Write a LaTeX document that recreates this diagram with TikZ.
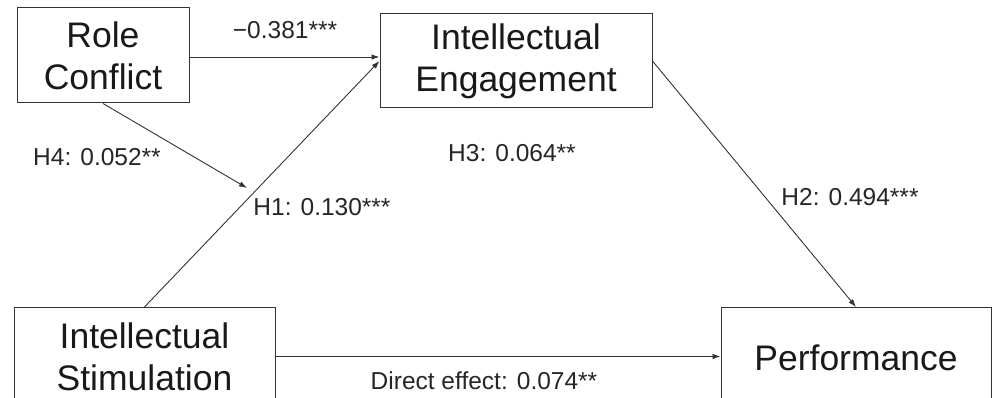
\documentclass[tikz,border=0pt]{standalone}
\usepackage{fontspec}
\setmainfont{Liberation Sans}
\usetikzlibrary{arrows.meta,calc}
\begin{document}
\begin{tikzpicture}[x=1pt,y=-1pt,
  box/.style={draw=black!80,line width=1pt,rectangle,inner sep=0pt,align=center,
    font=\fontsize{35.5}{42}\selectfont,text=black!90},
  lbl/.style={inner sep=0pt,font=\fontsize{24.5}{28}\selectfont,text=black!85},
  conn/.style={draw=black!80,line width=0.9pt,-{Latex[length=8pt,width=5.5pt]}}]
\useasboundingbox (0,0) rectangle (992,398);
\clip (0,0) rectangle (992,398);
\node[box,minimum width=172,minimum height=95] (rc) at (103,55.5) {Role\\Conflict};
\node[box,minimum width=272,minimum height=94] (ie) at (516,61) {Intellectual\\Engagement};
\node[box,minimum width=261,minimum height=98,anchor=north] (is) at (144.5,307) {Intellectual\\Stimulation};
\node[box,minimum width=270,minimum height=100,anchor=north] (pf) at (856,307) {Performance};
\coordinate (h4end) at (247,188);
\draw[conn] ([yshift=-1.5]rc.east) -- ([yshift=-1.5]ie.west |- rc.east);
\draw[conn] (is.north) -- (ie.west);
\draw[conn] (rc.south) -- (h4end);
\draw[conn] (ie.east) -- (pf.north);
\draw[conn] (is.east) -- (pf.west |- is.east);
\node[lbl] (l1) at (285,30) {−0.381***};
\node[lbl] (l2) at (97,157) {H4: 0.052**};
\node[lbl] (l3) at (322,207) {H1: 0.130***};
\node[lbl] (l4) at (512,153) {H3: 0.064**};
\node[lbl] (l5) at (850,197) {H2: 0.494***};
\node[lbl] (l6) at (484,381) {Direct effect: 0.074**};
\end{tikzpicture}
\end{document}
